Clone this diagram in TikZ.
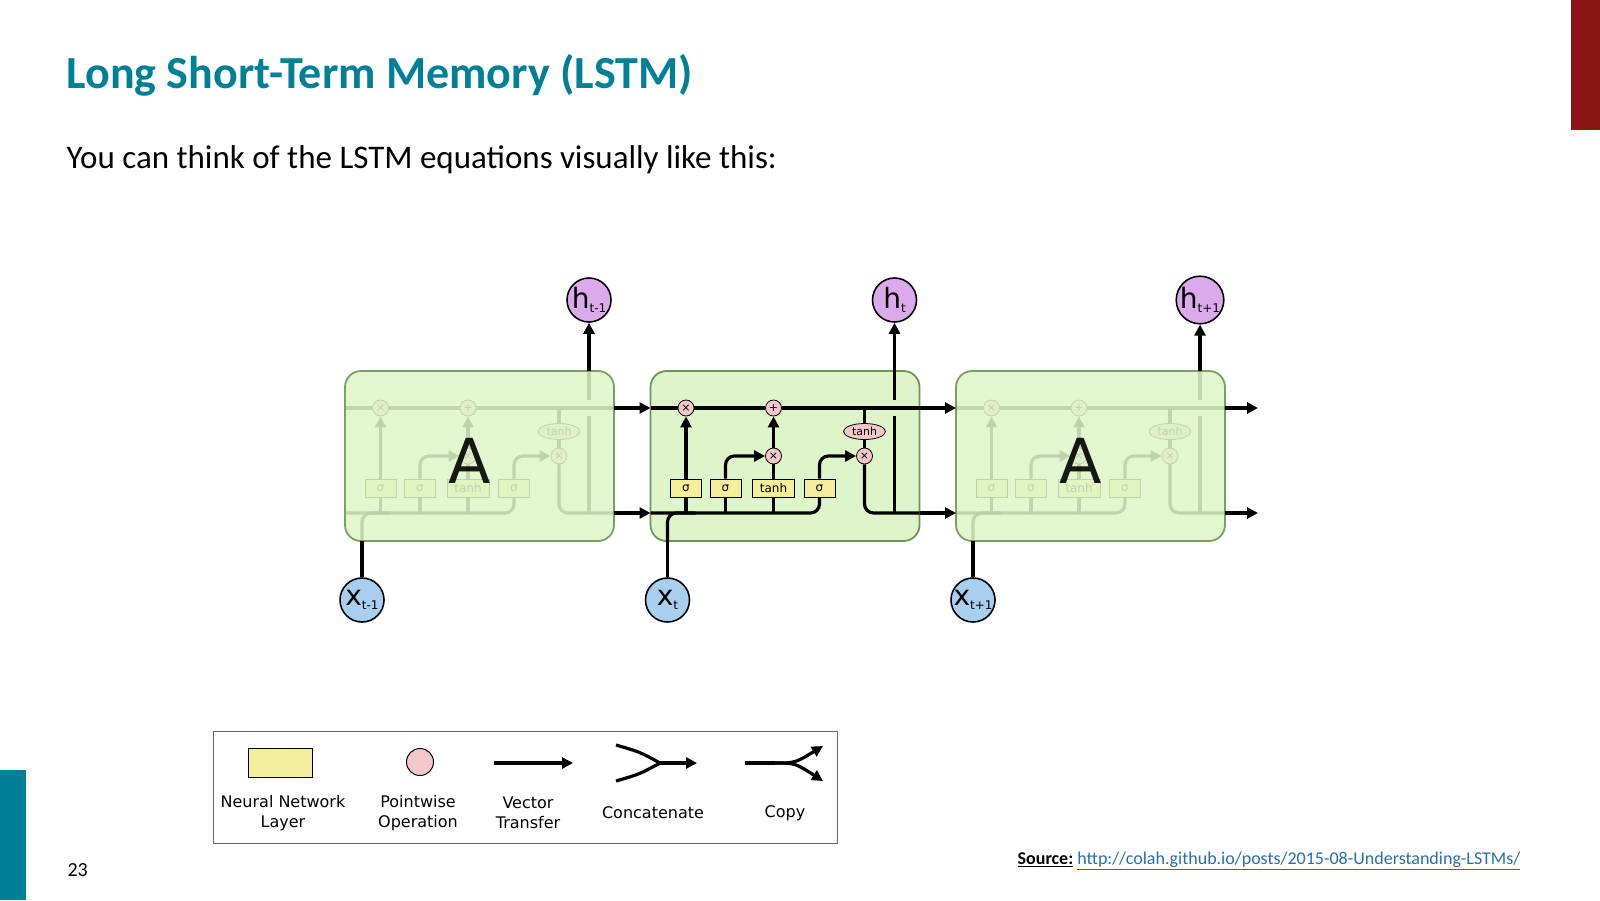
\documentclass[tikz,border=0pt]{standalone}
\usepackage{fontspec}
\setmainfont{Carlito}
\newfontfamily\diagfont{DejaVu Sans}
\usetikzlibrary{arrows.meta,shapes.geometric}
\definecolor{titleteal}{RGB}{0,128,150}
\definecolor{barred}{RGB}{140,22,22}
\definecolor{cellgreen}{RGB}{221,245,200}
\definecolor{celledge}{RGB}{110,150,85}
\definecolor{gateyellow}{RGB}{245,238,155}
\definecolor{oppink}{RGB}{244,200,200}
\definecolor{hpurple}{RGB}{218,170,235}
\definecolor{xblue}{RGB}{168,207,240}
\definecolor{linkblue}{RGB}{40,110,170}
\tikzset{
  wire/.style={line width=3.2pt},
  arr/.style={wire,-{Triangle[length=11pt,width=11pt]}},
  gate/.style={draw,fill=gateyellow,line width=0.8pt,minimum height=18pt,inner sep=1pt,font=\diagfont\fontsize{12}{12}\selectfont},
  op/.style={circle,draw,fill=oppink,line width=0.8pt,minimum size=16pt,inner sep=0pt,font=\diagfont\fontsize{11}{11}\selectfont},
  tanhop/.style={ellipse,draw,fill=oppink,line width=0.8pt,minimum width=42pt,minimum height=16pt,inner sep=0pt,font=\diagfont\fontsize{11}{11}\selectfont},
  hnode/.style={circle,draw,fill=hpurple,line width=1.6pt,minimum size=44pt,inner sep=0pt,font=\diagfont\fontsize{28}{28}\selectfont},
  xnode/.style={circle,draw,fill=xblue,line width=1.6pt,minimum size=44pt,inner sep=0pt,font=\diagfont\fontsize{28}{28}\selectfont},
  cellbox/.style={rounded corners=16pt,line width=1.8pt,draw=celledge},
  legtext/.style={align=center,font=\diagfont\fontsize{16}{20}\selectfont}
}
% inside of one cell, origin at its top left corner
\newcommand{\cellinside}{%
  \node[gate,minimum width=31pt] (s1) at (35.5,117) {σ};
  \node[gate,minimum width=31pt] (s2) at (75,117) {σ};
  \node[gate,minimum width=42pt] (tg) at (123,117) {tanh};
  \node[gate,minimum width=31pt] (s4) at (169,117) {σ};
  \node[op] (mf) at (35.5,37) {×};
  \node[op] (pl) at (123,37) {+};
  \node[op] (mi) at (123,85) {×};
  \node[op] (mo) at (214,85) {×};
  \node[tanhop] (tc) at (214,60.5) {tanh};
  \coordinate (tl) at (0,37);
  \coordinate (tr) at (269,37);
  \coordinate (bl) at (0,142);
  \coordinate (br) at (269,142);
  \coordinate (ht) at (244,0);
  \coordinate (xb) at (17,170);
  \draw[wire] (tl) -- (mf) -- (pl) -- (tr);
  \draw[wire,rounded corners=9pt] (bl) -| (s4);
  \draw[wire,rounded corners=9pt] (xb) |- (45,142);
  \draw[wire] (s1.south) -- (35.5,142) (s2.south) -- (75,142) (tg.south) -- (123,142);
  \draw[arr] (s1) -- (mf);
  \draw[arr,rounded corners=9pt] (s2) |- (mi);
  \draw[wire] (tg) -- (mi);
  \draw[arr] (mi) -- (pl);
  \draw[arr,rounded corners=9pt] (s4) |- (mo);
  \draw[wire] (214,37) -- (tc) -- (mo);
  \draw[wire,rounded corners=9pt] (mo) |- (br);
  \draw[wire] (244,142) -- (244,45) (244,29) -- (ht);
}
\begin{document}
\begin{tikzpicture}[x=1pt,y=-1pt]
  \useasboundingbox (0,0) rectangle (1600,900);
  \fill[barred] (1571,0) rectangle (1600,130);
  \fill[titleteal] (0,770) rectangle (26,900);
  \node[anchor=west,text=titleteal,font=\bfseries\fontsize{46}{46}\selectfont] (title) at (63,75) {Long Short-Term Memory (LSTM)};
  \node[anchor=west,font=\fontsize{33}{33}\selectfont] (sub) at (63,160) {You can think of the LSTM equations visually like this:};
  \node[anchor=west,font=\fontsize{20}{20}\selectfont] (page) at (64,870) {23};
  \node[anchor=east,font=\fontsize{18}{18}\selectfont] (src) at (1524,861)
    {\textbf{\underline{Source:}} {\color{linkblue}\underline{http://colah.github.io/posts/2015-08-Understanding-LSTMs/}}};

  % side cells: faded inside
  \foreach \cx/\nm in {345/L,956/R} {
    \begin{scope}[shift={(\cx,371)},name prefix=\nm-,opacity=0.9]
      \cellinside
      \fill[cellgreen,opacity=0.85,rounded corners=16pt] (0,0) rectangle (269,170);
      \draw[cellbox] (0,0) rectangle (269,170);
      \node[font=\diagfont\fontsize{62}{62}\selectfont] (A) at (125,90) {A};
    \end{scope}
  }
  % middle cell
  \begin{scope}[shift={(650.5,371)},name prefix=M-]
    \draw[cellbox,fill=cellgreen] (0,0) rectangle (269,170);
    \cellinside
  \end{scope}

  % inputs and outputs
  \node[hnode] (h0) at (589,300) {h\raisebox{-0.15em}{\fontsize{12}{12}\selectfont t-1}};
  \node[hnode] (h1) at (894.5,300) {h\raisebox{-0.15em}{\fontsize{12}{12}\selectfont t}};
  \node[hnode] (h2) at (1200,300) {h\raisebox{-0.15em}{\fontsize{12}{12}\selectfont t+1}};
  \node[xnode] (x0) at (362,600) {x\raisebox{-0.15em}{\fontsize{12}{12}\selectfont t-1}};
  \node[xnode] (x1) at (667.5,600) {x\raisebox{-0.15em}{\fontsize{12}{12}\selectfont t}};
  \node[xnode] (x2) at (973,600) {x\raisebox{-0.15em}{\fontsize{12}{12}\selectfont t+1}};
  \draw[arr] (L-ht) -- (h0);
  \draw[arr] (M-ht) -- (h1);
  \draw[arr] (R-ht) -- (h2);
  \draw[wire] (x0) -- (L-xb);
  \draw[wire] (x1) -- (M-xb);
  \draw[wire] (x2) -- (R-xb);
  \draw[arr] (L-tr) -- (M-tl);
  \draw[arr] (L-br) -- (M-bl);
  \draw[arr] (M-tr) -- (R-tl);
  \draw[arr] (M-br) -- (R-bl);
  \coordinate (et) at (1258,408);
  \coordinate (eb) at (1258,513);
  \draw[arr] (R-tr) -- (et);
  \draw[arr] (R-br) -- (eb);

  % legend
  \draw[line width=1pt,draw=black!60] (213,731) rectangle (837,843);
  \node[draw,fill=gateyellow,line width=1pt,minimum width=64pt,minimum height=29pt] (lg1) at (280,763) {};
  \node[circle,draw,fill=oppink,line width=1pt,minimum size=27pt,inner sep=0pt] (lg2) at (420,762) {};
  \coordinate (va) at (494,763);
  \coordinate (vb) at (573,763);
  \draw[arr] (va) -- (vb);
  \coordinate (ca) at (616,745);
  \coordinate (cb) at (616,781);
  \coordinate (cm) at (660,763);
  \coordinate (ce) at (697,763);
  \draw[wire] (ca) .. controls (640,752) .. (cm);
  \draw[wire] (cb) .. controls (640,774) .. (cm);
  \draw[arr] (cm) -- (ce);
  \coordinate (pa) at (745,763);
  \coordinate (pm) at (775,763);
  \coordinate (pu) at (823,746);
  \coordinate (pd) at (823,781);
  \draw[wire] (pa) -- (pm);
  \draw[arr] (pm) .. controls (795,763) .. (pu);
  \draw[arr] (pm) .. controls (795,763) .. (pd);
  \node[legtext] (lt1) at (283,813) {Neural Network\\Layer};
  \node[legtext] (lt2) at (418,813) {Pointwise\\Operation};
  \node[legtext] (lt3) at (528,813) {Vector\\Transfer};
  \node[legtext] (lt4) at (653,813) {Concatenate};
  \node[legtext] (lt5) at (785,813) {Copy};
\end{tikzpicture}
\end{document}
